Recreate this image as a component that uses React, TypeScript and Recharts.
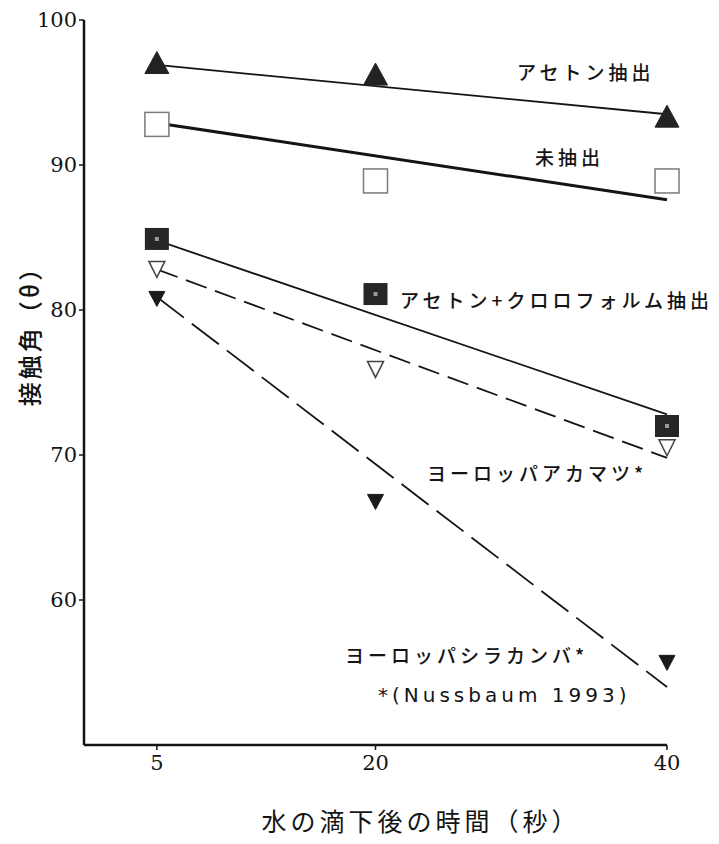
import React from "react";
import { ComposedChart, Line, Scatter, XAxis, YAxis } from "recharts";

// measured times (s) and contact angles (deg)
const times = [5, 20, 40];
const acetone = [97.0, 96.2, 93.3];
const unextracted = [92.8, 88.9, 88.9];
const acetoneChloroform = [84.9, 81.1, 72.0];
const redPine = [82.8, 75.9, 70.5];
const birch = [80.8, 66.8, 55.7];

// regression lines (ends at 5 s and 40 s)
const fitTimes = [5, 40];
const acetoneFit = [96.9, 93.5];
const unextractedFit = [92.9, 87.6];
const acetoneChloroformFit = [84.8, 72.8];
const redPineFit = [82.8, 69.8];
const birchFit = [80.9, 54.0];

const xTicks = [5, 20, 40];
const yTicks = [60, 70, 80, 90, 100];

const toPoints = (xs: number[], ys: number[]) => xs.map((x, i) => ({ x, y: ys[i] }));

const INK = "#141414";
const JP = "'Noto Sans CJK JP', 'Noto Sans', sans-serif";
const SERIF = "'DejaVu Serif', 'Liberation Serif', serif";

function TriUp(props: any) {
  const { cx, cy } = props;
  return <polygon points={`${cx},${cy - 12} ${cx - 12},${cy + 10} ${cx + 12},${cy + 10}`} fill="#222" stroke="#222" />;
}

function OpenSquare(props: any) {
  const { cx, cy } = props;
  return <rect x={cx - 12} y={cy - 12} width={24} height={24} fill="#fff" stroke="#7a7a7a" strokeWidth={1.5} />;
}

function FilledSquare(props: any) {
  const { cx, cy } = props;
  return (
    <g>
      <rect x={cx - 12} y={cy - 11} width={24} height={22} fill="#262626" />
      <rect x={cx - 2} y={cy - 2} width={4} height={4} fill="#9a9a9a" />
    </g>
  );
}

function OpenTriDown(props: any) {
  const { cx, cy } = props;
  return <polygon points={`${cx - 8},${cy - 8} ${cx + 8},${cy - 8} ${cx},${cy + 8}`} fill="#fff" stroke="#444" strokeWidth={1.5} />;
}

function FilledTriDown(props: any) {
  const { cx, cy } = props;
  return <polygon points={`${cx - 8},${cy - 7} ${cx + 8},${cy - 7} ${cx},${cy + 8}`} fill="#1a1a1a" stroke="#1a1a1a" />;
}

const notes = [
  { text: "アセトン抽出", left: 517, top: 60 },
  { text: "未抽出", left: 535, top: 145 },
  { text: "アセトン+クロロフォルム抽出", left: 400, top: 288 },
  { text: "ヨーロッパアカマツ*", left: 427, top: 461 },
  { text: "ヨーロッパシラカンバ*", left: 345, top: 643 },
];

export default function App() {
  const tickStyle = { fill: INK, fontSize: 21, fontFamily: SERIF };
  return (
    <div style={{ position: "relative", width: 719, height: 844, background: "#fff" }}>
      <style>{`body{margin:0;background:#fff}`}</style>
      <ComposedChart width={719} height={844} margin={{ top: 20, right: 52, bottom: 59, left: 24 }}>
        <XAxis
          dataKey="x"
          type="number"
          domain={[0, 40]}
          ticks={xTicks}
          height={40}
          tick={tickStyle}
          tickSize={5}
          tickMargin={5}
          axisLine={{ stroke: INK, strokeWidth: 2.5 }}
          tickLine={{ stroke: INK, strokeWidth: 1.5 }}
        />
        <YAxis
          type="number"
          domain={[50, 100]}
          ticks={yTicks}
          width={60}
          tick={tickStyle}
          tickSize={5}
          axisLine={{ stroke: INK, strokeWidth: 2.5 }}
          tickLine={{ stroke: INK, strokeWidth: 1.5 }}
        />
        <Line data={toPoints(fitTimes, acetoneFit)} dataKey="y" type="linear" stroke={INK} strokeWidth={1.8} dot={false} isAnimationActive={false} />
        <Line data={toPoints(fitTimes, unextractedFit)} dataKey="y" type="linear" stroke={INK} strokeWidth={3} dot={false} isAnimationActive={false} />
        <Line data={toPoints(fitTimes, acetoneChloroformFit)} dataKey="y" type="linear" stroke={INK} strokeWidth={1.8} dot={false} isAnimationActive={false} />
        <Line data={toPoints(fitTimes, redPineFit)} dataKey="y" type="linear" stroke={INK} strokeWidth={1.8} strokeDasharray="22 9" dot={false} isAnimationActive={false} />
        <Line data={toPoints(fitTimes, birchFit)} dataKey="y" type="linear" stroke={INK} strokeWidth={1.8} strokeDasharray="34 10" dot={false} isAnimationActive={false} />
        <Scatter data={toPoints(times, acetone)} dataKey="y" shape={TriUp} isAnimationActive={false} />
        <Scatter data={toPoints(times, unextracted)} dataKey="y" shape={OpenSquare} isAnimationActive={false} />
        <Scatter data={toPoints(times, acetoneChloroform)} dataKey="y" shape={FilledSquare} isAnimationActive={false} />
        <Scatter data={toPoints(times, redPine)} dataKey="y" shape={OpenTriDown} isAnimationActive={false} />
        <Scatter data={toPoints(times, birch)} dataKey="y" shape={FilledTriDown} isAnimationActive={false} />
      </ComposedChart>
      {notes.map((n) => (
        <div
          key={n.text}
          style={{
            position: "absolute",
            left: n.left,
            top: n.top,
            fontFamily: JP,
            fontSize: 19,
            fontWeight: 500,
            letterSpacing: 4,
            lineHeight: "24px",
            color: INK,
            whiteSpace: "nowrap",
          }}
        >
          {n.text}
        </div>
      ))}
      <div
        style={{
          position: "absolute",
          left: 378,
          top: 682,
          fontFamily: "'DejaVu Sans', sans-serif",
          fontSize: 20,
          letterSpacing: 4,
          lineHeight: "26px",
          color: INK,
          whiteSpace: "nowrap",
        }}
      >
        *(Nussbaum 1993)
      </div>
      <div
        style={{
          position: "absolute",
          left: 421,
          top: 820,
          transform: "translate(-50%, -50%)",
          fontFamily: JP,
          fontSize: 25,
          letterSpacing: 4,
          color: INK,
          whiteSpace: "nowrap",
        }}
      >
        水の滴下後の時間（秒）
      </div>
      <div
        style={{
          position: "absolute",
          left: 28,
          top: 330,
          transform: "translate(-50%, -50%) rotate(-90deg)",
          fontFamily: JP,
          fontSize: 24,
          fontWeight: 500,
          letterSpacing: 3,
          color: INK,
          whiteSpace: "nowrap",
        }}
      >
        接触角（θ）
      </div>
    </div>
  );
}
